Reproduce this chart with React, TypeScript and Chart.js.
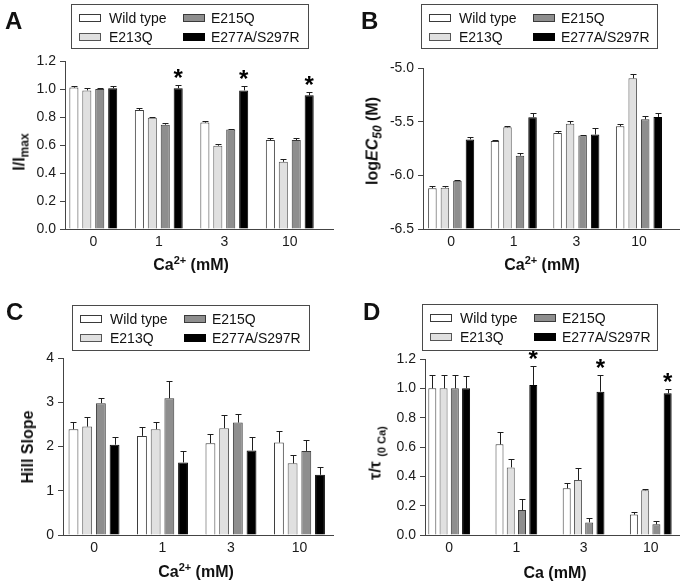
import React, { useEffect, useRef } from 'react';
import { Chart, registerables } from 'chart.js';

Chart.register(...registerables);

// ---------- data ----------
const concentrations = ['0', '1', '3', '10'];
const seriesNames = ['Wild type', 'E213Q', 'E215Q', 'E277A/S297R'];
const seriesFill = ['#ffffff', '#e0e0e0', '#8e8e8e', '#000000'];
const seriesBorder = ['#3a3a3a', '#555555', '#3a3a3a', '#000000'];

// Panel A: I/Imax
const aWildType = [1.01, 0.85, 0.76, 0.635];
const aE213Q = [0.99, 0.795, 0.595, 0.48];
const aE215Q = [1.0, 0.745, 0.71, 0.635];
const aE277A = [1.005, 1.005, 0.99, 0.955];
const aWildTypeErr = [0.015, 0.015, 0.012, 0.015];
const aE213QErr = [0.015, 0.008, 0.015, 0.017];
const aE215QErr = [0.007, 0.012, 0.006, 0.017];
const aE277AErr = [0.017, 0.025, 0.035, 0.025];
const aSignificant = [false, true, true, true];

// Panel B: logEC50 (M)
const bWildType = [-6.12, -5.68, -5.605, -5.543];
const bE213Q = [-6.115, -5.553, -5.52, -5.096];
const bE215Q = [-6.05, -5.817, -5.63, -5.478];
const bE277A = [-5.665, -5.46, -5.62, -5.456];
const bWildTypeErr = [0.02, 0.01, 0.022, 0.024];
const bE213QErr = [0.02, 0.01, 0.025, 0.037];
const bE215QErr = [0.008, 0.028, 0.007, 0.028];
const bE277AErr = [0.02, 0.04, 0.065, 0.04];

// Panel C: Hill slope
const cWildType = [2.39, 2.24, 2.075, 2.09];
const cE213Q = [2.45, 2.39, 2.415, 1.62];
const cE215Q = [2.98, 3.09, 2.54, 1.9];
const cE277A = [2.04, 1.64, 1.91, 1.36];
const cWildTypeErr = [0.17, 0.19, 0.2, 0.25];
const cE213QErr = [0.21, 0.16, 0.3, 0.19];
const cE215QErr = [0.11, 0.38, 0.19, 0.24];
const cE277AErr = [0.17, 0.25, 0.3, 0.17];

// Panel D: tau / tau(0 Ca)
const dWildType = [1.0, 0.618, 0.318, 0.139];
const dE213Q = [1.0, 0.461, 0.375, 0.305];
const dE215Q = [1.0, 0.17, 0.086, 0.073];
const dE277A = [1.0, 1.023, 0.977, 0.966];
const dWildTypeErr = [0.09, 0.082, 0.039, 0.02];
const dE213QErr = [0.09, 0.059, 0.08, 0.011];
const dE215QErr = [0.09, 0.075, 0.032, 0.022];
const dE277AErr = [0.085, 0.127, 0.116, 0.027];
const dSignificant = [false, true, true, true];

const FONT = "'Liberation Sans', Arial, Helvetica, sans-serif";

// ---------- plugin: error bars + significance stars ----------
const errorBarPlugin = {
  id: 'errorBars',
  afterDatasetsDraw(chart: any, _args: any, opts: any) {
    const { ctx } = chart;
    const yScale = chart.scales.y;
    const errors: number[][] = opts.errors || [];
    const stars: boolean[] | undefined = opts.stars;
    chart.data.datasets.forEach((ds: any, di: number) => {
      const meta = chart.getDatasetMeta(di);
      meta.data.forEach((el: any, i: number) => {
        const v = ds.data[i].y;
        const e = (errors[di] || [])[i] || 0;
        const top = yScale.getPixelForValue(v + e);
        const cx = Math.round(el.x) + 0.5;
        const yt = Math.round(top) + 0.5;
        ctx.save();
        ctx.strokeStyle = '#1e1e1e';
        ctx.lineWidth = 1;
        ctx.beginPath();
        ctx.moveTo(cx, el.y);
        ctx.lineTo(cx, yt);
        ctx.moveTo(cx - 3, yt);
        ctx.lineTo(cx + 3, yt);
        ctx.stroke();
        if (stars && di === chart.data.datasets.length - 1 && stars[i]) {
          ctx.fillStyle = '#000';
          ctx.font = `bold 24px ${FONT}`;
          ctx.textAlign = 'center';
          ctx.textBaseline = 'alphabetic';
          ctx.fillText('*', el.x, top + 1);
        }
        ctx.restore();
      });
    });
  },
};

type Spec = {
  key: string;
  letter: string;
  box: { left: number; top: number; width: number; height: number };
  area: { left: number; right: number; top: number; bottom: number };
  xRange: [number, number];
  yMin: number;
  yMax: number;
  yStep: number;
  decimals: number;
  base?: number;
  values: number[][];
  errors: number[][];
  stars?: boolean[];
  catPct: number;
  barPct: number;
  letterPos: [number, number];
  legend: { left: number; top: number; width: number; height: number };
  yTitle: React.ReactNode;
  yTitlePos: [number, number];
  xTitle: React.ReactNode;
  xTitlePos: [number, number];
};

function Panel({ spec }: { spec: Spec }) {
  const ref = useRef<HTMLCanvasElement>(null);
  useEffect(() => {
    const s = spec;
    const chart = new Chart(ref.current as HTMLCanvasElement, {
      type: 'bar',
      data: {
        datasets: seriesNames.map((name, si) => ({
          label: name,
          data: s.values[si].map((v, i) => ({ x: i, y: v })),
          backgroundColor: seriesFill[si],
          borderColor: seriesBorder[si],
          borderWidth: 1,
          base: s.base,
          categoryPercentage: s.catPct,
          barPercentage: s.barPct,
        })),
      } as any,
      options: {
        responsive: false,
        animation: false,
        layout: {
          padding: { left: 0, top: s.area.top, right: s.box.width - s.area.right, bottom: 0 },
        },
        plugins: {
          legend: { display: false },
          tooltip: { enabled: false },
          errorBars: { errors: s.errors, stars: s.stars },
        } as any,
        scales: {
          x: {
            type: 'linear',
            offset: false,
            min: s.xRange[0],
            max: s.xRange[1],
            afterBuildTicks: (axis: any) => {
              axis.ticks = concentrations.map((_, i) => ({ value: i }));
            },
            afterFit: (sc: any) => {
              sc.height = s.box.height - s.area.bottom;
            },
            ticks: {
              autoSkip: false,
              maxRotation: 0,
              padding: 5,
              color: '#1a1a1a',
              font: { family: FONT, size: 14 },
              callback: (v: any) => concentrations[Math.round(Number(v))] ?? '',
            },
            grid: { drawOnChartArea: false, drawTicks: false },
            border: { display: true, color: '#444', width: 1 },
          },
          y: {
            type: 'linear',
            min: s.yMin,
            max: s.yMax,
            afterFit: (sc: any) => {
              sc.width = s.area.left;
            },
            ticks: {
              stepSize: s.yStep,
              padding: 4,
              color: '#1a1a1a',
              font: { family: FONT, size: 14 },
              callback: (v: any) => Number(v).toFixed(s.decimals),
            },
            grid: { drawOnChartArea: false, drawTicks: true, tickLength: 5, color: '#444' },
            border: { display: true, color: '#444', width: 1 },
          },
        },
      } as any,
      plugins: [errorBarPlugin as any],
    });
    return () => chart.destroy();
  }, [spec]);

  const L = spec.legend;
  const swX = [7, 111];
  const txX = [37, 139];
  const rowY = [12.5, 31.5];
  const legendItems = seriesNames.map((name, si) => ({
    name,
    si,
    col: Math.floor(si / 2),
    row: si % 2,
  }));

  return (
    <div
      style={{
        position: 'absolute',
        left: spec.box.left,
        top: spec.box.top,
        width: spec.box.width,
        height: spec.box.height,
        fontFamily: FONT,
        color: '#111',
      }}
    >
      <canvas
        ref={ref}
        width={spec.box.width}
        height={spec.box.height}
        style={{ position: 'absolute', left: 0, top: 0, width: spec.box.width, height: spec.box.height }}
      />
      <div
        style={{
          position: 'absolute',
          left: spec.letterPos[0],
          top: spec.letterPos[1],
          fontSize: 24,
          fontWeight: 'bold',
          lineHeight: '24px',
        }}
      >
        {spec.letter}
      </div>
      <div
        style={{
          position: 'absolute',
          left: L.left,
          top: L.top,
          width: L.width,
          height: L.height,
          border: '1px solid #4a4a4a',
          boxSizing: 'border-box',
        }}
      >
        {legendItems.map((it) => (
          <React.Fragment key={it.name}>
            <div
              style={{
                position: 'absolute',
                left: swX[it.col],
                top: rowY[it.row] - 4,
                width: 22,
                height: 8,
                boxSizing: 'border-box',
                background: seriesFill[it.si],
                border: `1px solid ${seriesBorder[it.si]}`,
              }}
            />
            <div
              style={{
                position: 'absolute',
                left: txX[it.col],
                top: rowY[it.row] - 8,
                fontSize: 14,
                lineHeight: '16px',
                whiteSpace: 'nowrap',
              }}
            >
              {it.name}
            </div>
          </React.Fragment>
        ))}
      </div>
      <div
        style={{
          position: 'absolute',
          left: spec.yTitlePos[0],
          top: spec.yTitlePos[1],
          transform: 'translate(-50%, -50%) rotate(-90deg)',
          fontSize: 16,
          fontWeight: 'bold',
          lineHeight: '18px',
          whiteSpace: 'nowrap',
        }}
      >
        {spec.yTitle}
      </div>
      <div
        style={{
          position: 'absolute',
          left: spec.xTitlePos[0],
          top: spec.xTitlePos[1],
          transform: 'translate(-50%, -50%)',
          fontSize: 16,
          fontWeight: 'bold',
          lineHeight: '18px',
          whiteSpace: 'nowrap',
        }}
      >
        {spec.xTitle}
      </div>
    </div>
  );
}

const sup = (t: string) => (
  <span style={{ fontSize: 11, position: 'relative', top: -6 }}>{t}</span>
);

const caTitle = (
  <span>
    Ca{sup('2+')} (mM)
  </span>
);

const specs: Spec[] = [
  {
    key: 'A',
    letter: 'A',
    box: { left: 0, top: 0, width: 346, height: 290 },
    area: { left: 65, right: 333, top: 61, bottom: 229 },
    xRange: [-0.432, 3.66],
    yMin: 0,
    yMax: 1.2,
    yStep: 0.2,
    decimals: 1,
    values: [aWildType, aE213Q, aE215Q, aE277A],
    errors: [aWildTypeErr, aE213QErr, aE215QErr, aE277AErr],
    stars: aSignificant,
    catPct: 0.79,
    barPct: 0.7,
    letterPos: [5, 9],
    legend: { left: 71, top: 4, width: 238, height: 45 },
    yTitle: (
      <span>
        I/I<span style={{ fontSize: 12, position: 'relative', top: 4 }}>max</span>
      </span>
    ),
    yTitlePos: [20, 152],
    xTitle: caTitle,
    xTitlePos: [191, 265],
  },
  {
    key: 'B',
    letter: 'B',
    box: { left: 346, top: 0, width: 346, height: 290 },
    area: { left: 77, right: 333, top: 68, bottom: 229 },
    xRange: [-0.45, 3.64],
    yMin: -6.5,
    yMax: -5.0,
    yStep: 0.5,
    decimals: 1,
    base: -6.5,
    values: [bWildType, bE213Q, bE215Q, bE277A],
    errors: [bWildTypeErr, bE213QErr, bE215QErr, bE277AErr],
    catPct: 0.8,
    barPct: 0.68,
    letterPos: [15, 9],
    legend: { left: 75, top: 4, width: 237, height: 45 },
    yTitle: (
      <span>
        log<i>EC</i>
        <span style={{ fontSize: 12, position: 'relative', top: 4, fontStyle: 'italic' }}>50</span> (M)
      </span>
    ),
    yTitlePos: [27, 141],
    xTitle: caTitle,
    xTitlePos: [196, 265],
  },
  {
    key: 'C',
    letter: 'C',
    box: { left: 0, top: 290, width: 346, height: 294 },
    area: { left: 63, right: 333, top: 68, bottom: 245 },
    xRange: [-0.453, 3.49],
    yMin: 0,
    yMax: 4,
    yStep: 1,
    decimals: 0,
    values: [cWildType, cE213Q, cE215Q, cE277A],
    errors: [cWildTypeErr, cE213QErr, cE215QErr, cE277AErr],
    catPct: 0.8,
    barPct: 0.72,
    letterPos: [6, 10],
    legend: { left: 72, top: 15, width: 238, height: 46 },
    yTitle: <span>Hill Slope</span>,
    yTitlePos: [28, 157],
    xTitle: caTitle,
    xTitlePos: [196, 282],
  },
  {
    key: 'D',
    letter: 'D',
    box: { left: 346, top: 290, width: 346, height: 294 },
    area: { left: 79, right: 333, top: 69, bottom: 245 },
    xRange: [-0.36, 3.42],
    yMin: 0,
    yMax: 1.2,
    yStep: 0.2,
    decimals: 1,
    values: [dWildType, dE213Q, dE215Q, dE277A],
    errors: [dWildTypeErr, dE213QErr, dE215QErr, dE277AErr],
    stars: dSignificant,
    catPct: 0.67,
    barPct: 0.71,
    letterPos: [17, 10],
    legend: { left: 76, top: 14, width: 236, height: 47 },
    yTitle: (
      <span>
        τ/τ <span style={{ fontSize: 11, position: 'relative', top: 5 }}>(0 Ca)</span>
      </span>
    ),
    yTitlePos: [30, 163],
    xTitle: <span>Ca (mM)</span>,
    xTitlePos: [209, 283],
  },
];

export default function App() {
  return (
    <div
      style={{
        position: 'absolute',
        left: 0,
        top: 0,
        width: 692,
        height: 584,
        background: '#ffffff',
        overflow: 'hidden',
      }}
    >
      {specs.map((s) => (
        <Panel key={s.key} spec={s} />
      ))}
    </div>
  );
}
